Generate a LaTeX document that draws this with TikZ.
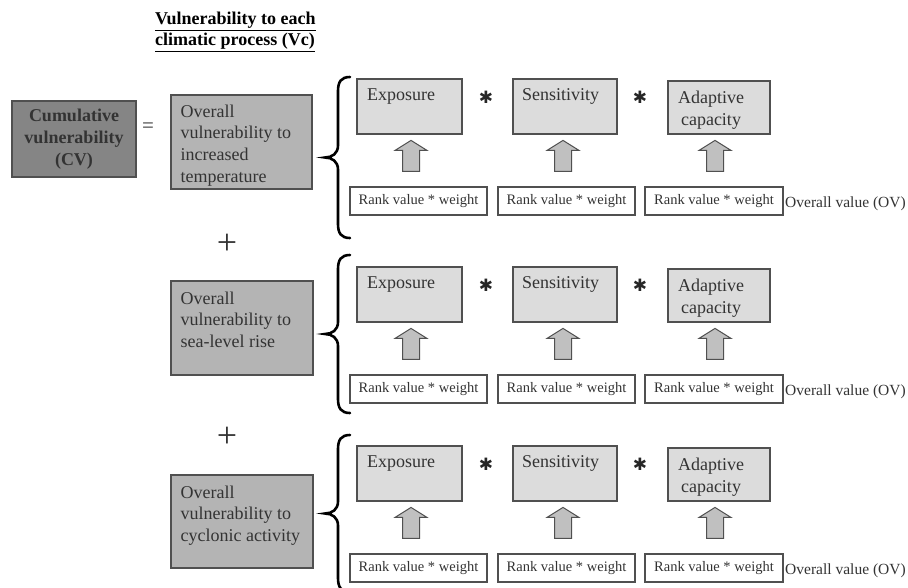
\documentclass[tikz,border=0pt]{standalone}
\usepackage{fontspec}
\setmainfont{Liberation Serif}
\newfontfamily\symfont{DejaVu Sans}
\usetikzlibrary{fit,calc}
\definecolor{cvfill}{HTML}{858585}
\definecolor{ovfill}{HTML}{B4B4B4}
\definecolor{comfill}{HTML}{DCDCDC}
\definecolor{arrfill}{HTML}{C0C0C0}
\definecolor{edge}{HTML}{505050}
\definecolor{txt}{HTML}{333333}
\newcommand{\mybrace}[3]{%
  \draw[bracestyle] (350,#1) .. controls (341,#1) and (338,#1+5) .. (338,#1+14)
    -- (338,#3-12) .. controls (338,#3-4) and (332,#3) .. (325,#3)
    .. controls (332,#3) and (338,#3+4) .. (338,#3+12)
    -- (338,#2-14) .. controls (338,#2-5) and (341,#2) .. (350,#2);}
\begin{document}
\begin{tikzpicture}[x=1pt,y=-1pt,
  boxbase/.style={draw=edge,line width=1.2pt,inner sep=0pt},
  cvbox/.style={boxbase,fill=cvfill},
  ovbox/.style={boxbase,fill=ovfill},
  combox/.style={boxbase,fill=comfill},
  rankbox/.style={boxbase,fill=white,text=txt,font=\fontsize{14.5}{17}\selectfont},
  bigtext/.style={text=txt,inner sep=0pt,font=\fontsize{18}{21.7}\selectfont,align=left},
  optext/.style={text=txt,inner sep=0pt},
  startext/.style={text=black!85,inner sep=0pt,font=\symfont\fontsize{17}{17}\selectfont},
  bracestyle/.style={line width=2.6pt,line cap=round},
  blockarrow/.pic={\draw[draw=edge,fill=arrfill,line width=1pt,line join=miter]
     (-8.5,0) -- (-8.5,-21) -- (-16,-21) -- (0,-31) -- (16,-21) -- (8.5,-21) -- (8.5,0) -- cycle;}
]
\useasboundingbox (0,0) rectangle (908,587);

% title
\node[anchor=north west,inner sep=0pt,align=left,font=\fontsize{18}{21}\selectfont\bfseries] (title) at (155,12)
  {\underline{Vulnerability to each}\\\underline{climatic process (Vc)}};

% cumulative vulnerability
\node[cvbox,fit={(12,101) (136,177)}] (cv) {};
\node[inner sep=0pt,align=center,font=\fontsize{18}{22}\selectfont\bfseries,text=txt] (cvt) at (cv.center)
  {Cumulative\\vulnerability\\(CV)};
\node[optext,font=\fontsize{21}{21}\selectfont] (eq) at (148,128) {=};

% overall boxes
\node[ovbox,fit={(171,95) (312,189)}] (ov1) {};
\node[bigtext,anchor=north west] (ov1t) at ($(ov1.north west)+(10,10)$)
  {Overall\\vulnerability to\\increased\\temperature};
\node[ovbox,fit={(171,281) (313,375)}] (ov2) {};
\node[bigtext,anchor=north west] (ov2t) at ($(ov2.north west)+(10,11)$)
  {Overall\\vulnerability to\\sea-level rise};
\node[ovbox,fit={(171,475) (313,568)}] (ov3) {};
\node[bigtext,anchor=north west] (ov3t) at ($(ov3.north west)+(10,11)$)
  {Overall\\vulnerability to\\cyclonic activity};

\node[optext,font=\fontsize{36}{36}\selectfont] (plus1) at (227,244) {+};
\node[optext,font=\fontsize{36}{36}\selectfont] (plus2) at (227,437) {+};

% braces
\mybrace{77}{238}{157.5}
\mybrace{255}{413}{334}
\mybrace{435}{592}{513.5}

% component rows
\foreach \r/\o in {1/0,2/188,3/367}{
  \node[combox,fit={(357,79+\o) (462,134+\o)}] (e\r) {};
  \node[bigtext,anchor=north west] (e\r t) at ($(e\r.north west)+(10.5,10)$) {Exposure};
  \node[combox,fit={(513,79+\o) (617,134+\o)}] (s\r) {};
  \node[bigtext,anchor=north west] (s\r t) at ($(s\r.north west)+(9.5,9.5)$) {Sensitivity};
  \node[combox,fit={(668,81+\o) (770,134+\o)}] (a\r) {};
  \node[bigtext,align=center,anchor=north] (a\r t) at ($(a\r.north)+(-8,10.5)$) {Adaptive\\capacity};
  \node[startext] (st\r a) at (486,97+\o) {✱};
  \node[startext] (st\r b) at (640,97+\o) {✱};
  \node[rankbox,fit={(350,187+\o) (487,215+\o)}] (r\r a) {};
  \node[rankbox,draw=none,fill=none,inner sep=0pt] (r\r at) at (r\r a.center) {Rank value * weight};
  \node[rankbox,fit={(498,187+\o) (635,215+\o)}] (r\r b) {};
  \node[rankbox,draw=none,fill=none,inner sep=0pt] (r\r bt) at (r\r b.center) {Rank value * weight};
  \node[rankbox,fit={(645,187+\o) (783,215+\o)}] (r\r c) {};
  \node[rankbox,draw=none,fill=none,inner sep=0pt] (r\r ct) at (r\r c.center) {Rank value * weight};
  \node[optext,anchor=base west,font=\fontsize{15.5}{17}\selectfont] (ovl\r) at (785,207+\o) {Overall value (OV)};
  \pic at ($(r\r a.north)+(-7.5,-15)$) {blockarrow};
  \pic at ($(r\r b.north)+(-3.5,-15)$) {blockarrow};
  \pic at ($(r\r c.north)+(1,-15)$) {blockarrow};
}
\end{tikzpicture}
\end{document}
